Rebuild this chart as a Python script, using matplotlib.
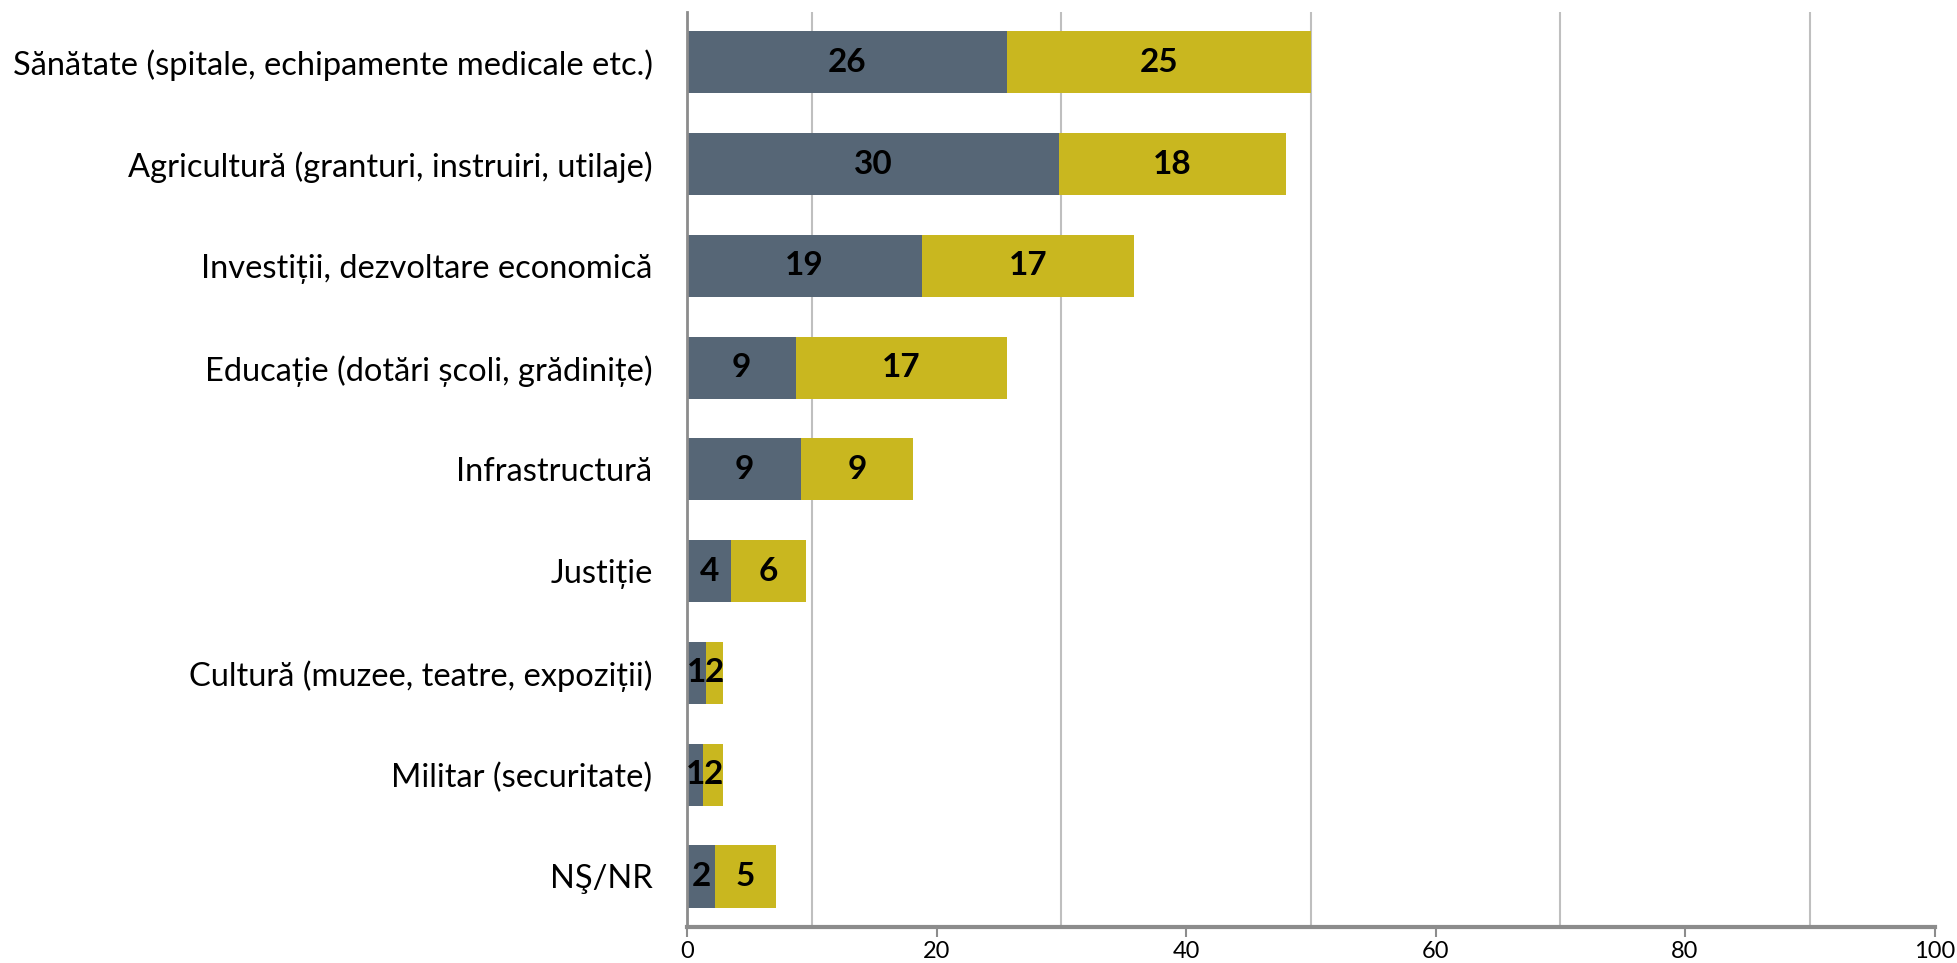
import matplotlib.pyplot as plt
from matplotlib.ticker import FixedLocator

plt.rcParams['font.family'] = ['Lato', 'DejaVu Sans']

categories = ['Sănătate (spitale, echipamente medicale etc.)',
              'Agricultură (granturi, instruiri, utilaje)',
              'Investiții, dezvoltare economică',
              'Educație (dotări școli, grădinițe)',
              'Infrastructură',
              'Justiție',
              'Cultură (muzee, teatre, expoziții)',
              'Militar (securitate)',
              'NŞ/NR']
first = [25.6, 29.8, 18.8, 8.7, 9.1, 3.5, 1.5, 1.3, 2.2]
second = [24.4, 18.2, 17.0, 16.9, 9.0, 6.0, 1.4, 1.6, 4.9]
first_labels = ['26', '30', '19', '9', '9', '4', '1', '1', '2']
second_labels = ['25', '18', '17', '17', '9', '6', '2', '2', '5']

dark = '#566676'
yellow = '#C9B71F'

fig = plt.figure(figsize=(19.58, 9.63), dpi=100)
ax = fig.add_axes([0.351, 0.037, 0.637, 0.951])

y = list(range(len(categories)))
ax.barh(y, first, height=0.61, color=dark, zorder=2)
ax.barh(y, second, left=first, height=0.61, color=yellow, zorder=2)

for i in y:
    ax.text(first[i] / 2, i, first_labels[i], ha='center', va='center',
            fontsize=24, fontweight='bold', color='black', zorder=3)
    ax.text(first[i] + second[i] / 2, i, second_labels[i], ha='center', va='center',
            fontsize=24, fontweight='bold', color='black', zorder=3)

ax.set_ylim(len(categories) - 0.5, -0.5)
ax.set_xlim(0, 100)
ax.set_yticks(y)
ax.set_yticklabels(categories, fontsize=23.5)
ax.tick_params(axis='y', length=0, pad=25)

ax.set_xticks([0, 20, 40, 60, 80, 100])
ax.xaxis.set_minor_locator(FixedLocator([10, 30, 50, 70, 90]))
ax.tick_params(axis='x', which='major', labelsize=17, length=7, width=1.5,
               color='#8c8c8c', pad=3)
ax.tick_params(axis='x', which='minor', length=0)
ax.grid(axis='x', which='minor', color='#bfbfbf', linewidth=1.5, zorder=0)
ax.grid(axis='x', which='major', visible=False)

for side in ['top', 'right']:
    ax.spines[side].set_visible(False)
ax.spines['left'].set_color('#8c8c8c')
ax.spines['left'].set_linewidth(2)
ax.spines['bottom'].set_color('#8c8c8c')
ax.spines['bottom'].set_linewidth(3)

fig.savefig('out.png', dpi=100)
